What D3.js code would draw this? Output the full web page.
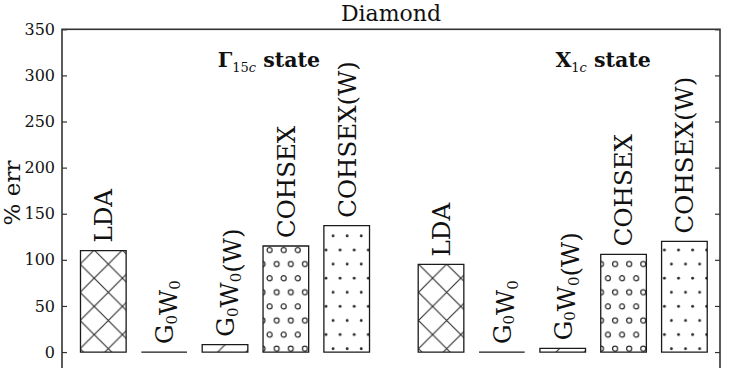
<!DOCTYPE html>
<html>
<head>
<meta charset="utf-8">
<script src="https://cdn.jsdelivr.net/npm/d3@7/dist/d3.min.js"></script>
<style>
	body { margin: 0; background: #fff; }
	svg text { font-family: "DejaVu Serif", "Liberation Serif", serif; fill: #111; }
</style>
</head>
<body>
<svg id="chart" width="737" height="368"></svg>
<script>

// method names, "_x" marks a subscript
var methods = ["LDA", "G_0W_0", "G_0W_0(W)", "COHSEX", "COHSEX(W)"];

// % error for each state, same order as methods
var gammaErr = [110, 0, 8, 115, 137];
var xErr = [95, 0, 4, 106, 120];

var stateNames = ["\u0393", "X"];
var stateSubs = ["15", "1"];

var yTicks = [0, 50, 100, 150, 200, 250, 300, 350];

var title = "Diamond";


var svg = d3.select("#chart");

var plotLeft = 62;
var plotRight = 720;
var plotTop = 29.3;
var plotBottom = 370.5;

var x = d3.scaleLinear().domain([-0.679, 10.135]).range([plotLeft, plotRight]);
var y = d3.scaleLinear().domain([-20, 350]).range([plotBottom, plotTop]);

var groupGap = 5.55;
var barWidth = 0.75;
var P = 28.2;
var hatchColor = "#2a2a2a";


// ---- hatch patterns (anchored to page, like matplotlib does)
var defs = svg.append("defs");

function linePattern(id, withSE)
{
	var pat = defs.append("pattern")
		.attr("id", id)
		.attr("patternUnits", "userSpaceOnUse")
		.attr("width", P)
		.attr("height", P)
		.attr("x", 9.6)
		.attr("y", -3.8);

	var d = "";
	[0, P, 2 * P].forEach(function(c)
	{
		d += "M" + (c + 5) + "," + (-5) + "L" + (c - P - 5) + "," + (P + 5);
	});
	if (withSE)
	{
		[-P, 0, P].forEach(function(c)
		{
			d += "M" + (c - 5) + "," + (-5) + "L" + (c + P + 5) + "," + (P + 5);
		});
	}
	pat.append("path")
		.attr("d", d)
		.attr("stroke", hatchColor)
		.attr("stroke-width", 1.1)
		.attr("fill", "none");
}

function circlePattern(id, filled)
{
	var pat = defs.append("pattern")
		.attr("id", id)
		.attr("patternUnits", "userSpaceOnUse")
		.attr("width", P / 2)
		.attr("height", P)
		.attr("x", -1.8)
		.attr("y", 242.95);

	var pts = [[3.5, 7.05], [3.5 + P / 4, 7.05 + P / 2]];
	pts.forEach(function(p)
	{
		var c = pat.append("circle")
			.attr("cx", p[0])
			.attr("cy", p[1]);
		if (filled)
		{
			c.attr("r", 1.45).attr("fill", hatchColor);
		}
		else
		{
			c.attr("r", 2.5).attr("fill", "none")
				.attr("stroke", hatchColor).attr("stroke-width", 1.2);
		}
	});
}

linePattern("hatch-x", true);
linePattern("hatch-slash", false);
circlePattern("hatch-o", false);
circlePattern("hatch-dot", true);

var hatchFor = ["hatch-x", "hatch-slash", "hatch-slash", "hatch-o", "hatch-dot"];


// ---- title
svg.append("text")
	.attr("x", (plotLeft + plotRight) / 2)
	.attr("y", 21)
	.attr("text-anchor", "middle")
	.style("font-size", "22px")
	.text(title);


// ---- axes
var clip = defs.append("clipPath").attr("id", "plotclip");
clip.append("rect")
	.attr("x", plotLeft).attr("y", plotTop)
	.attr("width", plotRight - plotLeft).attr("height", plotBottom - plotTop);

var yAxisL = d3.axisLeft(y).tickValues(yTicks).tickSize(-5).tickPadding(7);
var yAxisR = d3.axisRight(y).tickValues(yTicks).tickSize(-5).tickFormat("");

var gL = svg.append("g").attr("transform", "translate(" + plotLeft + ",0)").call(yAxisL);
var gR = svg.append("g").attr("transform", "translate(" + plotRight + ",0)").call(yAxisR);

[gL, gR].forEach(function(g)
{
	g.select(".domain").remove();
	g.selectAll(".tick line").attr("stroke", "#333").attr("stroke-width", 1.2);
});
gL.selectAll(".tick text")
	.attr("fill", "#222")
	.style("font-size", "16px")
	.style("font-family", "DejaVu Serif, serif");

svg.append("text")
	.attr("transform", "translate(20,193) rotate(-90)")
	.attr("text-anchor", "middle")
	.style("font-size", "23px")
	.text("% err");


// ---- bars
var plot = svg.append("g").attr("clip-path", "url(#plotclip)");

var groups = [gammaErr, xErr];

function barPath(x0, x1, yTop, yBase)
{
	// a path, so that a zero height bar still shows as a line
	return "M" + x0 + "," + yBase + "V" + yTop + "H" + x1 + "V" + yBase + "Z";
}

groups.forEach(function(vals, g)
{
	vals.forEach(function(v, i)
	{
		var pos = g * groupGap + i;
		var x0 = x(pos - barWidth / 2);
		var x1 = x(pos + barWidth / 2);
		var d = barPath(x0, x1, y(v), y(0));

		plot.append("path")
			.attr("d", d)
			.attr("fill", "#fff");

		plot.append("path")
			.attr("d", d)
			.attr("fill", "url(#" + hatchFor[i] + ")")
			.attr("stroke", "#1a1a1a")
			.attr("stroke-width", 1.3);

		// rotated label over the bar
		var lbl = plot.append("text")
			.attr("transform", "translate(" + x(pos) + "," + (y(v) - 8) + ") rotate(-90)")
			.attr("dy", "0.36em")
			.style("font-size", "24.5px");

		var parts = methods[i].split(/_(\w)/);
		parts.forEach(function(part, k)
		{
			if (part === "")
				return;
			if (k % 2 == 1)
			{
				lbl.append("tspan").attr("dy", "0.25em").style("font-size", "15px").text(part);
				lbl.append("tspan").attr("dy", "-0.4em").text("");
			}
			else
			{
				lbl.append("tspan").text(part);
			}
		});
	});

	// state caption
	var cap = svg.append("text")
		.attr("x", x(g * groupGap + 1.88))
		.attr("y", 66.5)
		.style("font-size", "20.5px")
		.style("font-weight", "bold");
	cap.append("tspan").text(stateNames[g]);
	var sub = cap.append("tspan").attr("dy", 5).style("font-size", "13px").style("font-weight", "normal");
	sub.text(stateSubs[g]);
	cap.append("tspan").style("font-size", "13px").style("font-weight", "normal").style("font-style", "italic").text("c");
	cap.append("tspan").attr("dy", -5).text(" state");
});


// ---- frame (bottom edge falls below the page)
svg.append("rect")
	.attr("x", plotLeft)
	.attr("y", plotTop)
	.attr("width", plotRight - plotLeft)
	.attr("height", plotBottom - plotTop)
	.attr("fill", "none")
	.attr("stroke", "#333")
	.attr("stroke-width", 1.6);

</script>
</body>
</html>
